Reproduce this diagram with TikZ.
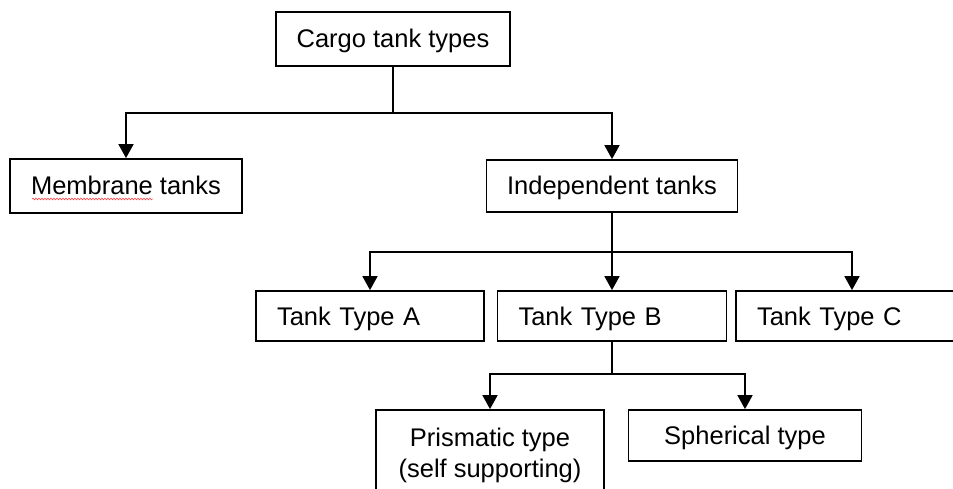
\documentclass[tikz,border=0pt]{standalone}
\usepackage{fontspec}
\setmainfont{Liberation Sans}
\usetikzlibrary{arrows.meta,decorations.pathmorphing}
\begin{document}
\begin{tikzpicture}[x=1pt,y=-1pt,
  box/.style={draw=black,line width=1.8pt,rectangle,inner sep=0pt,
    font=\fontsize{25.5}{31}\selectfont,text height=18pt,text depth=0pt},
  cbox/.style={box,align=center},
  lbox/.style={box,text width=#1,align=left,inner xsep=21pt},
  conn/.style={line width=1.8pt},
  arr/.style={conn,-{Triangle[width=15pt,length=14pt]}}]
\useasboundingbox (0,0) rectangle (953,489);
% boxes
\node[cbox,minimum width=234pt,minimum height=54pt] (top) at (393,39) {Cargo tank types};
\node[cbox,minimum width=232pt,minimum height=54pt] (mem) at (126,186) {Membrane tanks};
\node[cbox,minimum width=251pt,minimum height=52pt] (ind) at (612,186) {Independent tanks};
\node[lbox=186pt,minimum height=50pt] (ta) at (370,316) {Tank Type A};
\node[lbox=187pt,minimum height=50pt] (tb) at (612,316) {Tank Type B};
\node[lbox=190pt,minimum height=50pt] (tc) at (852,316) {Tank Type C};
\node[cbox,minimum width=228pt,minimum height=85pt,text height=49pt,text depth=0pt] (pris) at (490,452.5) {Prismatic type\\(self supporting)};
\node[cbox,minimum width=233pt,minimum height=51pt] (sph) at (745,435.5) {Spherical type};
% spell-check underline
\coordinate (sq1) at (32,199);
\coordinate (sq2) at (153,199);
\draw[red!80!white,line width=0.5pt,decorate,decoration={snake,amplitude=0.9pt,segment length=3pt}] (sq1) -- (sq2);
% junctions
\coordinate (j1) at (393,113);
\coordinate (j2) at (612,252);
\coordinate (j3) at (612,374);
% connectors
\draw[conn] (top) -- (j1);
\draw[arr] (j1) -| (mem);
\draw[arr] (j1) -| (ind);
\draw[conn] (ind) -- (j2);
\draw[arr] (j2) -| (ta);
\draw[arr] (j2) -- (tb);
\draw[arr] (j2) -| (tc);
\draw[conn] (tb) -- (j3);
\draw[arr] (j3) -| (pris);
\draw[arr] (j3) -| (sph);
\end{tikzpicture}
\end{document}
